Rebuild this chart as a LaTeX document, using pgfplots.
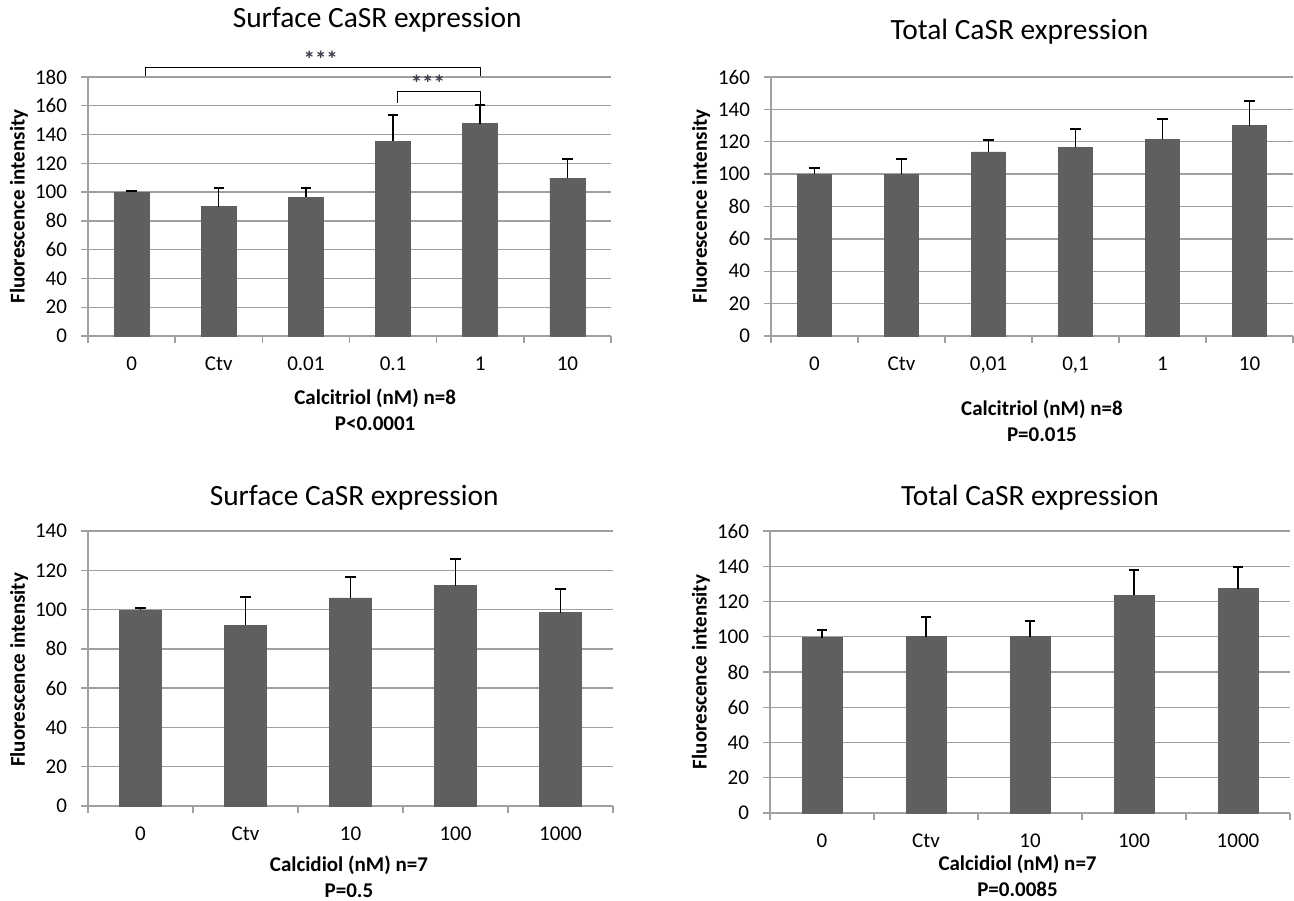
\documentclass[border=0pt]{standalone}
\usepackage{pgfplots}
\pgfplotsset{compat=1.18}
\usepackage{fontspec}
\setmainfont{Carlito}
\definecolor{barc}{HTML}{5F5F5F}
\definecolor{gridc}{HTML}{A0A0A0}
\definecolor{starc}{HTML}{3A3A4A}

\pgfplotsset{
  panel/.style={
    scale only axis,
    axis x line=bottom, axis y line=left,
    axis line style={gridc, line width=0.7pt, -},
    ymajorgrids, grid style={gridc, line width=0.7pt},
    tick style={gridc, line width=0.7pt},
    tick align=outside, major tick length=3.5pt,
    x tick label as interval,
    ymin=0,
    ybar, 
    clip=false,
    /pgf/number format/assume math mode=true,
    tick label style={font=\fontsize{10.5}{12}\selectfont, black},
    yticklabel style={xshift=-3.5pt},
    xticklabel style={yshift=-3.5pt},
    xlabel style={font=\fontsize{10.5}{13}\selectfont\bfseries, align=center, anchor=center},
    ylabel style={font=\fontsize{10.5}{13}\selectfont\bfseries, anchor=center},
  },
  bars/.style={
    fill=barc, draw=barc,
    error bars/.cd, y dir=plus, y explicit,
    error bar style={black, line width=0.75pt},
    error mark options={rotate=90, mark size=2.6pt, black, line width=1pt},
  },
}
\tikzset{ptitle/.style={font=\fontsize{14.7}{17}\selectfont, anchor=center, inner sep=0pt},
  stars/.style={anchor=base, font=\fontsize{11.5}{12}\selectfont\bfseries, text=starc, inner sep=0pt}}

\begin{document}
\begin{tikzpicture}
\path[use as bounding box] (0,0) rectangle (647pt,-450pt);

% Panel 1: Surface CaSR expression, calcitriol
\begin{axis}[panel,
  at={(44pt,-168pt)}, anchor=south west,
  width=261.5pt, height=129.5pt,
  xmin=-0.5, xmax=5.5, ymax=180,
  ytick={0,20,...,180},
  xtick={-0.5,0.5,1.5,2.5,3.5,4.5,5.5},
  xticklabels={0,Ctv,0.01,0.1,1,10},
  bar width=17.5pt,
  xlabel={Calcitriol (nM) n=8\\P<0.0001},
  xlabel style={at={(axis description cs:0.549,-0.286)}},
  ylabel={Fluorescence intensity},
  ylabel style={at={(axis description cs:-0.132,0.5)}},
]
\addplot[bars] table[x=x, y=y, y error=e] {
x y e
0 100 1
1 90 13
2 96.6 6.5
3 135.5 18.3
4 147.6 12.7
5 109.8 13.2
};
\node[ptitle] at (rel axis cs:0.553,1.222) {Surface CaSR expression};
\draw[black, line width=0.6pt] (axis cs:0.158,180.7) -- (axis cs:0.158,186.5) -- (axis cs:4,186.5) -- (axis cs:4,180.7);
\draw[black, line width=0.6pt] (axis cs:3.05,162) -- (axis cs:3.05,170) -- (axis cs:4,170) -- (axis cs:4,160.3);
\node[stars] at (axis cs:2.17,186.6) {***};
\node[stars] at (axis cs:3.40,170.1) {***};
\end{axis}

% Panel 2: Total CaSR expression, calcitriol
\begin{axis}[panel,
  at={(385.5pt,-168pt)}, anchor=south west,
  width=261pt, height=129.5pt,
  xmin=-0.5, xmax=5.5, ymax=160,
  ytick={0,20,...,160},
  xtick={-0.5,0.5,1.5,2.5,3.5,4.5,5.5},
  xticklabels={0,Ctv,{0,01},{0,1},1,10},
  bar width=17pt,
  xlabel={Calcitriol (nM) n=8\\P=0.015},
  xlabel style={at={(axis description cs:0.519,-0.326)}},
  ylabel={Fluorescence intensity},
  ylabel style={at={(axis description cs:-0.134,0.5)}},
]
\addplot[bars] table[x=x, y=y, y error=e] {
x y e
0 100 3.5
1 100 9.3
2 113.7 7.3
3 116.6 11.3
4 121.5 12.4
5 130 15.4
};
\node[ptitle] at (rel axis cs:0.476,1.176) {Total CaSR expression};
\end{axis}

% Panel 3: Surface CaSR expression, calcidiol
\begin{axis}[panel,
  at={(44pt,-403pt)}, anchor=south west,
  width=262.5pt, height=137.5pt,
  xmin=-0.5, xmax=4.5, ymax=140,
  ytick={0,20,...,140},
  xtick={-0.5,0.5,1.5,2.5,3.5,4.5},
  xticklabels={0,Ctv,10,100,1000},
  bar width=21pt,
  xlabel={Calcidiol (nM) n=7\\P=0.5},
  xlabel style={at={(axis description cs:0.497,-0.256)}},
  ylabel={Fluorescence intensity},
  ylabel style={at={(axis description cs:-0.131,0.495)}},
]
\addplot[bars] table[x=x, y=y, y error=e] {
x y e
0 99.7 1.3
1 92.1 14.1
2 105.9 10.8
3 112.2 13.5
4 98.4 12.1
};
\node[ptitle] at (rel axis cs:0.507,1.122) {Surface CaSR expression};
\end{axis}

% Panel 4: Total CaSR expression, calcidiol
\begin{axis}[panel,
  at={(385pt,-406.5pt)}, anchor=south west,
  width=260pt, height=141pt,
  xmin=-0.5, xmax=4.5, ymax=160,
  ytick={0,20,...,160},
  xtick={-0.5,0.5,1.5,2.5,3.5,4.5},
  xticklabels={0,Ctv,10,100,1000},
  bar width=20pt,
  xlabel={Calcidiol (nM) n=7\\P=0.0085},
  xlabel style={at={(axis description cs:0.476,-0.224)}},
  ylabel={Fluorescence intensity},
  ylabel style={at={(axis description cs:-0.133,0.5)}},
]
\addplot[bars] table[x=x, y=y, y error=e] {
x y e
0 99.5 4.2
1 100 11
2 100 9
3 123.5 14.4
4 127.3 12.3
};
\node[ptitle] at (rel axis cs:0.5,1.120) {Total CaSR expression};
\end{axis}
\end{tikzpicture}
\end{document}
